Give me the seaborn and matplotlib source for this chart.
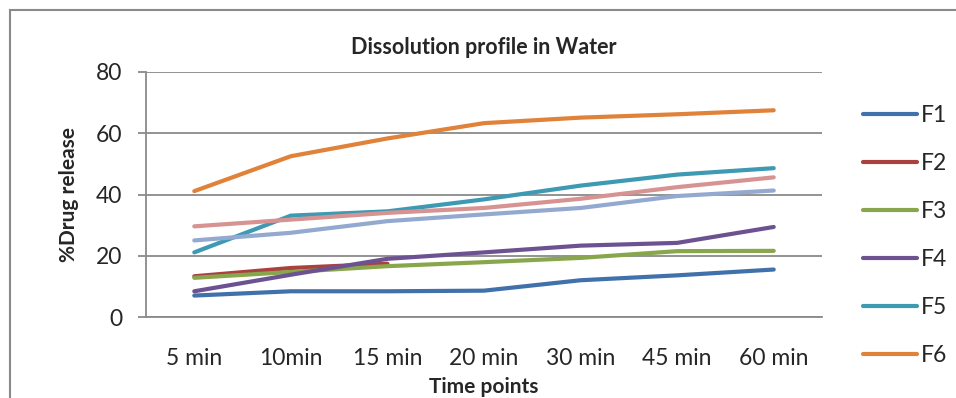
import matplotlib
matplotlib.use("Agg")
import matplotlib.pyplot as plt
import seaborn as sns
import numpy as np
import pandas as pd
from matplotlib.patches import Rectangle

time_points = ["5 min", "10min", "15 min", "20 min", "30 min", "45 min", "60 min"]
F1 = [7.0, 8.4, 8.4, 8.6, 12.0, 13.6, 15.5]
F2 = [13.3, 16.0, 17.4, np.nan, np.nan, np.nan, np.nan]
F3 = [12.8, 14.7, 16.6, 17.9, 19.3, 21.5, 21.6]
F4 = [8.4, 13.8, 19.0, 21.1, 23.3, 24.2, 29.4]
F5 = [21.1, 33.1, 34.5, 38.4, 42.9, 46.5, 48.6]
F6 = [41.1, 52.5, 58.3, 63.3, 65.1, 66.2, 67.5]
F7 = [29.6, 31.8, 34.0, 35.6, 38.6, 42.4, 45.6]
F8 = [25.0, 27.5, 31.3, 33.5, 35.6, 39.5, 41.3]
series_names = ["F1", "F2", "F3", "F4", "F5", "F6", "F7", "F8"]
series_values = [F1, F2, F3, F4, F5, F6, F7, F8]
legend_names = ["F1", "F2", "F3", "F4", "F5", "F6"]
colors = ["#4171AB", "#AA413E", "#88A64B", "#6D5291", "#3E99B3", "#E0823A", "#D69392", "#94A9D0"]

rows = []
for name, vals in zip(series_names, series_values):
    for t, v in zip(time_points, vals):
        rows.append({"Time": t, "Release": v, "Formulation": name})
df = pd.DataFrame(rows).dropna()

sns.set_style("white")
plt.rcParams["font.family"] = ["Lato", "DejaVu Sans"]

fig = plt.figure(figsize=(9.56, 3.98), dpi=100)
ax = fig.add_axes([146 / 956, 1 - 317 / 398, (822 - 146) / 956, (317 - 72) / 398])

sns.lineplot(data=df, x="Time", y="Release", hue="Formulation",
             hue_order=series_names, palette=colors, linewidth=3.0,
             sort=False, ax=ax, legend=False)
for ln in ax.get_lines():
    ln.set_solid_capstyle("round")
    ln.set_solid_joinstyle("round")

ax.set_xlim(-0.5, 6.5)
ax.set_ylim(0, 80)
ax.set_yticks([0, 20, 40, 60, 80])
ax.yaxis.grid(True, color="#8a8a8a", linewidth=1.3)
ax.set_axisbelow(True)
for s in ["top", "right"]:
    ax.spines[s].set_visible(False)
for s in ["left", "bottom"]:
    ax.spines[s].set_color("#8a8a8a")
    ax.spines[s].set_linewidth(1.3)

ax.set_xticks(range(7))
ax.set_xticklabels(time_points, fontsize=16.5)
ax.tick_params(axis="x", length=0, pad=22)
ax.set_xticks(np.arange(-0.5, 7.0, 1.0), minor=True)
ax.tick_params(axis="x", which="minor", length=6, width=1.3, color="#8a8a8a", direction="out")
ax.tick_params(axis="y", length=6, width=1.3, color="#8a8a8a", labelsize=16.5, pad=11, direction="out", left=True)

ax.set_xlabel("Time points", fontsize=15, fontweight="bold", labelpad=6)
ax.set_ylabel("%Drug release", fontsize=15, fontweight="bold", labelpad=12)
ax.set_title("Dissolution profile in Water", fontsize=15.5, fontweight="bold", pad=13)

handles = ax.get_lines()[:6]
leg = fig.legend(handles, legend_names, loc="upper left",
                 bbox_to_anchor=(852 / 956, 1 - 94 / 398), frameon=False,
                 fontsize=16.5, handlelength=2.35, handletextpad=0.15,
                 labelspacing=1.17, borderpad=0)

fig.patches.append(Rectangle((10 / 956, -0.2), 1.2, 1.2 - 10 / 398,
                             transform=fig.transFigure, fill=False,
                             edgecolor="#8a8a8a", linewidth=1.5))

fig.savefig("out.png", dpi=100)
